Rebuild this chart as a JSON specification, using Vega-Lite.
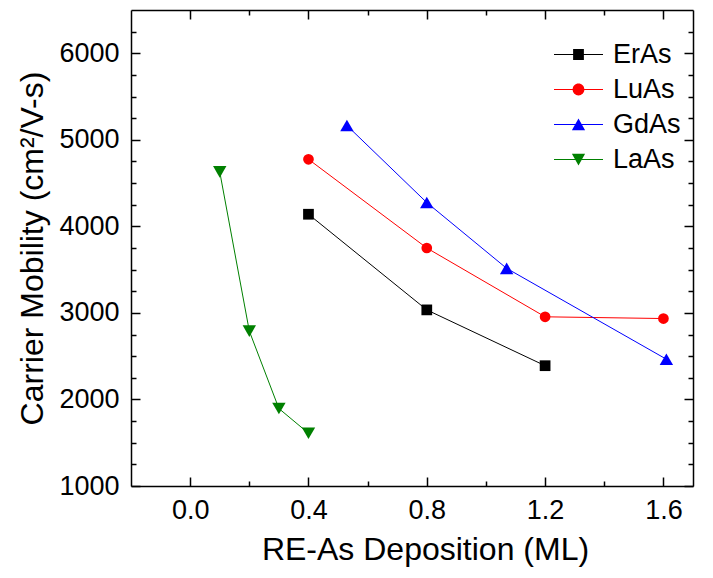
{
  "$schema": "https://vega.github.io/schema/vega-lite/v6.json",
  "width": 562,
  "height": 476,
  "autosize": {"type": "none"},
  "padding": {"left": 131, "top": 10, "right": 20, "bottom": 92},
  "background": "white",
  "config": {
    "view": {"stroke": null},
    "font": "Liberation Sans",
    "axis": {
      "grid": false,
      "domainColor": "black",
      "domainWidth": 1.5,
      "tickColor": "black",
      "tickWidth": 1.5,
      "labelFont": "Liberation Sans",
      "labelFontSize": 27,
      "labelColor": "black",
      "titleFont": "Liberation Sans",
      "titleFontSize": 32,
      "titleFontWeight": "normal",
      "titleColor": "black"
    }
  },
  "data": {
    "values": [
      {"series": "ErAs", "x": 0.4, "y": 4140},
      {"series": "ErAs", "x": 0.8, "y": 3035},
      {"series": "ErAs", "x": 1.2, "y": 2390},
      {"series": "LuAs", "x": 0.4, "y": 4775},
      {"series": "LuAs", "x": 0.8, "y": 3750},
      {"series": "LuAs", "x": 1.2, "y": 2955},
      {"series": "LuAs", "x": 1.6, "y": 2935},
      {"series": "GdAs", "x": 0.53, "y": 5165},
      {"series": "GdAs", "x": 0.8, "y": 4275},
      {"series": "GdAs", "x": 1.07, "y": 3515},
      {"series": "GdAs", "x": 1.61, "y": 2465},
      {"series": "LaAs", "x": 0.1, "y": 4630},
      {"series": "LaAs", "x": 0.2, "y": 2790},
      {"series": "LaAs", "x": 0.3, "y": 1895},
      {"series": "LaAs", "x": 0.4, "y": 1610}
    ]
  },
  "resolve": {
    "axis": {"x": "independent", "y": "independent"},
    "scale": {"shape": "independent"},
    "legend": {"color": "independent", "shape": "independent"}
  },
  "layer": [
    {
      "mark": {"type": "line", "strokeWidth": 1},
      "encoding": {
        "x": {"field": "x", "type": "quantitative", "scale": {"domain": [-0.2, 1.7], "nice": false, "zero": false},
          "axis": {"orient": "bottom", "values": [0, 0.4, 0.8, 1.2, 1.6], "format": ".1f", "tickSize": -9, "labelPadding": 20, "title": "RE-As Deposition (ML)", "titlePadding": 11, "titleX": 294}},
        "y": {"field": "y", "type": "quantitative", "scale": {"domain": [1000, 6500], "nice": false, "zero": false},
          "axis": {"orient": "left", "values": [1000, 2000, 3000, 4000, 5000, 6000], "format": "d", "tickSize": -9, "labelPadding": 21, "title": "Carrier Mobility (cm²/V-s)", "titlePadding": 9}},
        "color": {"field": "series", "type": "nominal", "scale": {"domain": ["ErAs", "LuAs", "GdAs", "LaAs"], "range": ["#000000", "#ff0000", "#0000ff", "#008000"]}, "legend": null},
        "detail": {"field": "series"}
      }
    },
    {
      "transform": [{"filter": "datum.series === 'ErAs' || datum.series === 'LuAs'"}],
      "mark": {"type": "point", "filled": true, "opacity": 1, "size": 115},
      "encoding": {
        "x": {"field": "x", "type": "quantitative", "scale": {"domain": [-0.2, 1.7], "nice": false, "zero": false},
          "axis": {"orient": "bottom", "values": [0.2, 0.6, 1.0, 1.4], "tickSize": -5, "labels": false, "domain": false, "title": null}},
        "y": {"field": "y", "type": "quantitative", "scale": {"domain": [1000, 6500], "nice": false, "zero": false},
          "axis": {"orient": "left", "values": [1250, 1500, 1750, 2250, 2500, 2750, 3250, 3500, 3750, 4250, 4500, 4750, 5250, 5500, 5750, 6250], "tickSize": -5, "labels": false, "domain": false, "title": null}},
        "color": {"field": "series", "type": "nominal", "scale": {"domain": ["ErAs", "LuAs", "GdAs", "LaAs"], "range": ["#000000", "#ff0000", "#0000ff", "#008000"]}, "legend": null},
        "shape": {"field": "series", "type": "nominal", "scale": {"domain": ["ErAs", "LuAs", "GdAs", "LaAs"], "range": ["square", "circle", "triangle-up", "triangle-down"]}, "legend": null}
      }
    },
    {
      "transform": [{"filter": "datum.series === 'GdAs' || datum.series === 'LaAs'"}],
      "mark": {"type": "point", "filled": true, "opacity": 1, "size": 180},
      "encoding": {
        "x": {"field": "x", "type": "quantitative", "scale": {"domain": [-0.2, 1.7], "nice": false, "zero": false}, "axis": null},
        "y": {"field": "y", "type": "quantitative", "scale": {"domain": [1000, 6500], "nice": false, "zero": false}, "axis": null},
        "color": {"field": "series", "type": "nominal", "scale": {"domain": ["ErAs", "LuAs", "GdAs", "LaAs"], "range": ["#000000", "#ff0000", "#0000ff", "#008000"]}, "legend": null},
        "shape": {"field": "series", "type": "nominal", "scale": {"domain": ["ErAs", "LuAs", "GdAs", "LaAs"], "range": ["square", "circle", "triangle-up", "triangle-down"]}, "legend": null}
      }
    },
    {
      "mark": {"type": "point", "opacity": 0},
      "encoding": {
        "x": {"field": "x", "type": "quantitative", "scale": {"domain": [-0.2, 1.7], "nice": false, "zero": false},
          "axis": {"orient": "top", "values": [0, 0.4, 0.8, 1.2, 1.6], "tickSize": -9, "labels": false, "title": null}},
        "y": {"field": "y", "type": "quantitative", "scale": {"domain": [1000, 6500], "nice": false, "zero": false},
          "axis": {"orient": "right", "values": [1000, 2000, 3000, 4000, 5000, 6000], "tickSize": -9, "labels": false, "title": null}}
      }
    },
    {
      "mark": {"type": "point", "opacity": 0},
      "encoding": {
        "x": {"field": "x", "type": "quantitative", "scale": {"domain": [-0.2, 1.7], "nice": false, "zero": false},
          "axis": {"orient": "top", "values": [0.2, 0.6, 1.0, 1.4], "tickSize": -5, "labels": false, "domain": false, "title": null}},
        "y": {"field": "y", "type": "quantitative", "scale": {"domain": [1000, 6500], "nice": false, "zero": false},
          "axis": {"orient": "right", "values": [1250, 1500, 1750, 2250, 2500, 2750, 3250, 3500, 3750, 4250, 4500, 4750, 5250, 5500, 5750, 6250], "tickSize": -5, "labels": false, "domain": false, "title": null}}
      }
    },
    {
      "transform": [{"filter": "false"}],
      "mark": {"type": "point", "filled": true, "opacity": 1},
      "encoding": {
        "x": {"field": "x", "type": "quantitative", "scale": {"domain": [-0.2, 1.7], "nice": false, "zero": false}, "axis": null},
        "y": {"field": "y", "type": "quantitative", "scale": {"domain": [1000, 6500], "nice": false, "zero": false}, "axis": null},
        "color": {"field": "series", "type": "nominal", "scale": {"domain": ["ErAs", "LuAs", "GdAs", "LaAs"], "range": ["#000000", "#ff0000", "#0000ff", "#008000"]},
          "legend": {
            "title": null, "orient": "none", "legendX": 422, "legendY": 27,
            "symbolSize": 2401, "clipHeight": 35, "rowPadding": 0, "labelOffset": 9,
            "labelFont": "Liberation Sans", "labelFontSize": 27, "labelColor": "black", "padding": 0
          }},
        "shape": {"field": "series", "type": "nominal",
          "scale": {"domain": ["ErAs", "LuAs", "GdAs", "LaAs"], "range": [
            "M-1,-0.022H1V0.022H-1ZM-0.22,-0.22H0.22V0.22H-0.22Z",
            "M-1,-0.022H1V0.022H-1ZM-0.24,0A0.24,0.24,0,1,1,0.24,0A0.24,0.24,0,1,1,-0.24,0Z",
            "M-1,-0.022H1V0.022H-1ZM0,-0.24L0.27,0.23H-0.27Z",
            "M-1,-0.022H1V0.022H-1ZM0,0.24L-0.27,-0.23H0.27Z"
          ]},
          "legend": {
            "title": null, "orient": "none", "legendX": 422, "legendY": 27,
            "symbolSize": 2401, "clipHeight": 35, "rowPadding": 0, "labelOffset": 9,
            "labelFont": "Liberation Sans", "labelFontSize": 27, "labelColor": "black", "padding": 0
          }}
      }
    }
  ]
}
